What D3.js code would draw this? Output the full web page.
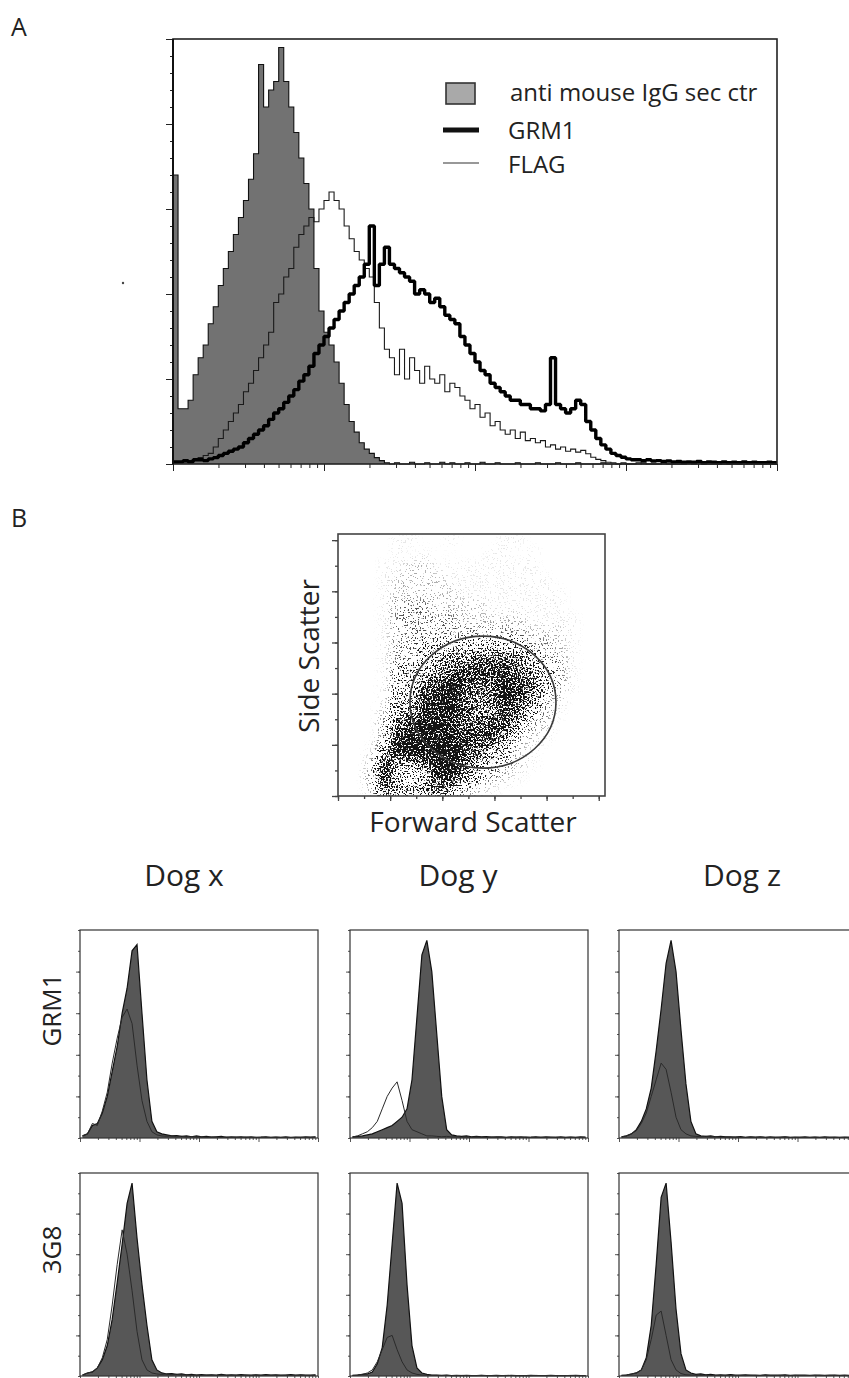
<!DOCTYPE html>
<html>
<head>
<meta charset="utf-8">
<script src="https://cdn.jsdelivr.net/npm/d3@7"></script>
<style>
  body { margin: 0; background: #fff; }
  svg { display: block; font-family: "Open Sans", sans-serif; }
</style>
</head>
<body>
<div id="graf"></div>
<script>
// Datos: panel A, 120 canales en escala log (4 decadas)
const controlA = [68,13,13,15,21,25,28,33,37,42, 46,50,54,58,62,67,73,94,84,88,
  90,98,90,84,78,72,66,60,46,36, 31,28,24,19,14,10,7.5,5,3.5,2.5,
  1.5,0.8,0.3,0,0.3,0,0,0.4,0,0, 0.3,0,0,0.4,0,0.3,0,0,0.3,0,
  0,0.4,0,0,0.3,0,0,0,0.3,0, 0,0,0.3,0,0,0,0.3,0,0,0,
  0.3,0,0,0,0,0.3,0,0,0,0, 0,0,0,0.3,0,0,0,0,0,0,
  0,0,0.3,0,0,0,0,0,0,0, 0,0,0,0,0.3,0,0,0,0,0]
const grm1A = [0.5,0.5,0.8,0.5,1,1,0.8,1.2,1.5,2, 2.5,3,3.5,4,5,6,7,8,9,10.5,
  12,13,14.5,16,17.5,19.5,21,23,26,28, 30,32,34,36,38,40,42,44,47,56,
  42,47,51,47,46,45,44,43,40,41, 40,38,39,37,35,34,33,30,28,26,
  24,22,21,19,18,17,16,15,15,14, 14,13,13,12.5,14,25,14,13,12,13,
  15,14,10,8,6,4.5,3.5,2.5,2,1.6, 1.2,1,1,0.8,1,0.7,0.8,0.6,0.7,0.5,
  0.6,0.4,0.5,0.4,0.6,0.3,0.5,0.4,0.3,0.5, 0.3,0.4,0.3,0.5,0.3,0.4,0.3,0.3,0.4,0.3]
const flagA = [0.3,0.5,0.5,0.8,1,1.5,2,2.5,4,6, 8,10,12,14,17,19,22,25,28,31,
  38,40,44,46,51,54,56,58,57,60, 62,64,62,60,56,53,50,48,46,44,
  38,32,27,25,21,27,20,25,22,19, 23,20,19,21,17,19,18,16,15,13,
  14,11,12,9,10,8,7,8,6,7.5, 5.5,6,5,5.5,4,4.5,3.5,4,3,3.5,
  2.8,3.2,2.4,1.6,1.1,0.8,0.4,0.3,0,0.3, 0,0,0.3,0,0,0,0,0.3,0,0,
  0,0,0,0,0.3,0,0,0,0,0, 0,0,0,0,0,0,0.3,0,0,0]
const leyendaA = ["anti mouse IgG sec ctr", "GRM1", "FLAG"]

// Datos: panel B, densidad FSC / SSC (filas de arriba a abajo, 0-9)
const densidad = [
  "00001100100011000000",
  "00001010000110100000",
  "00011221111111100000",
  "00012222111111110000",
  "00012222211111111000",
  "00013332222111111000",
  "00013333322222111100",
  "00013333333333222100",
  "00013344444444332100",
  "00013345667776533100",
  "00014446788887643100",
  "00014478987798743100",
  "00015589976798632000",
  "00025689986687431000",
  "00037899877885320000",
  "00038999988863210000",
  "00159999987542100000",
  "00286579975432100000",
  "00384348964321000000",
  "00276567532100000000",
]
const gateCentro = [556, 367]
const gateRadio = [280, 258]

// Datos: histogramas por perro (48 canales log)
const perros = ["Dog x", "Dog y", "Dog z"]
const anticuerpos = ["GRM1", "3G8"]
const grmFill = [
  [1,2,6,7,12,20,32,44,60,72, 90,93,60,28,8,3,2,1.5,1,1.2, 0.8,1,0.6,1,0.5,0.8,0.4,0.6,0.8,0.3, 0.5,0.4,0.6,0.3,0.5,0.3,0.4,0.6,0.3,0.4, 0.3,0.5,0.3,0.4,0.3,0.5,0.4,0.6],
  [0.5,0.8,1,1.5,2,3,4,5,6,8, 10,14,28,58,88,95,80,50,20,4, 1.5,1,0.8,1,0.6,0.8,0.5,0.7,0.4,0.6, 0.5,0.3,0.6,0.4,0.5,0.3,0.4,0.6,0.3,0.5, 0.4,0.3,0.5,0.3,0.4,0.3,0.5,0.4],
  [0.5,1,2,4,8,14,24,42,62,84, 95,80,52,26,8,2,1,0.8,1,0.6, 0.8,0.5,0.6,0.4,0.7,0.3,0.5,0.4,0.6,0.3, 0.5,0.3,0.4,0.5,0.3,0.4,0.3,0.5,0.3,0.4, 0.3,0.5,0.3,0.4,0.3,0.4,0.3,0.4],
]
const grmCtrl = [
  [1,2,7,6,13,22,36,48,58,62, 55,35,18,8,3,1.5,1,0.8,1,0.6, 0.8,0.5,0.7,0.4,0.6,0.3,0.5,0.4,0.3,0.5, 0.3,0.4,0.3,0.5,0.3,0.3,0.4,0.3,0.3,0.4, 0.3,0.3,0.2,0.3,0.4,0.3,0.3,0.4],
  [0.5,1,2,3,5,8,14,20,24,27, 18,8,4,3,2,1,1,0.8,0.6,0.8, 0.5,0.6,0.4,0.5,0.3,0.5,0.4,0.3,0.5,0.3, 0.4,0.3,0.3,0.4,0.3,0.5,0.3,0.3,0.4,0.3, 0.3,0.4,0.3,0.3,0.4,0.3,0.3,0.3],
  [0.5,1,2,3.5,7,12,20,28,36,33, 22,10,4,2,1,0.8,0.6,0.8,0.5,0.6, 0.4,0.5,0.3,0.5,0.4,0.3,0.5,0.3,0.4,0.3, 0.3,0.4,0.3,0.5,0.3,0.3,0.4,0.3,0.3,0.4, 0.3,0.3,0.4,0.3,0.3,0.3,0.4,0.3],
]
const g3g8Fill = [
  [0.5,1.5,2,4,8,15,28,46,65,85, 95,68,45,25,8,3,1.5,1,1.2,0.8, 1,0.6,0.8,0.5,0.7,0.4,0.6,0.5,0.8,0.4, 0.6,0.5,0.7,0.4,0.5,0.6,0.4,0.7,0.5,0.6, 0.4,0.5,0.7,0.4,0.6,0.5,0.4,0.6],
  [0.3,0.5,0.8,1,2,6,14,35,65,95, 85,45,15,4,1.5,0.8,0.5,0.4,0.3,0.4, 0.2,0.3,0.2,0.3,0.2,0.2,0.3,0.2,0.2,0.3, 0.2,0.2,0.3,0.2,0.2,0.2,0.3,0.2,0.2,0.2, 0.3,0.2,0.2,0.2,0.2,0.3,0.2,0.2],
  [0.3,0.5,1,1.5,3,9,25,55,88,95, 66,33,11,3,1.5,0.8,1,0.6,0.8,0.5, 0.6,0.4,0.7,0.4,0.5,0.6,0.4,0.5,0.3,0.6, 0.4,0.5,0.4,0.6,0.3,0.5,0.4,0.5,0.3,0.4, 0.5,0.3,0.4,0.5,0.3,0.4,0.3,0.5],
]
const g3g8Ctrl = [
  [0.5,1.5,2,4,9,18,35,55,72,60, 42,22,8,3,1.5,1,0.8,1,0.6,0.8, 0.5,0.6,0.4,0.5,0.3,0.5,0.4,0.3,0.5,0.4, 0.3,0.4,0.3,0.5,0.3,0.4,0.3,0.3,0.4,0.3, 0.3,0.4,0.3,0.3,0.4,0.3,0.3,0.4],
  [0.3,0.5,0.8,1.5,3,7,13,19,20,13, 7,3,1.5,0.8,0.5,0.4,0.3,0.3,0.2,0.3, 0.2,0.2,0.3,0.2,0.2,0.2,0.3,0.2,0.2,0.2, 0.2,0.3,0.2,0.2,0.2,0.2,0.2,0.3,0.2,0.2, 0.2,0.2,0.2,0.2,0.3,0.2,0.2,0.2],
  [0.3,0.5,1,1.5,3,8,18,30,32,20, 8,3,1.2,0.6,0.5,0.4,0.3,0.4,0.3,0.3, 0.2,0.3,0.3,0.2,0.3,0.2,0.3,0.2,0.2,0.3, 0.2,0.2,0.3,0.2,0.2,0.3,0.2,0.2,0.2,0.3, 0.2,0.2,0.2,0.3,0.2,0.2,0.2,0.2],
]

// Dimensiones
const anchoTotal = 849
const altoTotal = 1378

const svg = d3.select("#graf")
  .append("svg")
  .attr("width", anchoTotal)
  .attr("height", altoTotal)

const defs = svg.append("defs")

// Helpers de histograma (canales en escala log)
const pasos = (vals) => {
  const n = vals.length
  const pts = vals.map((v, i) => ({ e: Math.pow(10, (4 * i) / n), v }))
  pts.push({ e: 1e4, v: vals[n - 1] })
  return pts
}
const centros = (vals) => {
  const n = vals.length
  return vals.map((v, i) => ({ e: Math.pow(10, (4 * (i + 0.5)) / n), v }))
}
const area = (x, y, curva) => d3.area().x((d) => x(d.e)).y0(y(0)).y1((d) => y(d.v)).curve(curva)
const linea = (x, y, curva) => d3.line().x((d) => x(d.e)).y((d) => y(d.v)).curve(curva)

const eje = (g, axis, tr, color = "#222", ancho = 1) =>
  g.append("g")
    .attr("transform", tr)
    .call(axis)
    .call((s) => s.select(".domain").remove())
    .call((s) => s.selectAll("line").attr("stroke", color).attr("stroke-width", ancho))

const esDecada = (v) => Math.abs(Math.log10(v) - Math.round(Math.log10(v))) < 1e-6

// ---------- Panel A ----------
svg.append("text").attr("x", 11).attr("y", 36).attr("font-size", 25).attr("fill", "#222").text("A")
svg.append("circle").attr("cx", 123).attr("cy", 283).attr("r", 1.2).attr("fill", "#444")

const aX = d3.scaleLog().domain([1, 1e4]).range([173, 777])
const aY = d3.scaleLinear().domain([0, 100]).range([464, 39])
const gA = svg.append("g")
const escalon = d3.curveStepAfter

gA.append("path")
  .datum(pasos(controlA))
  .attr("d", area(aX, aY, escalon))
  .attr("fill", "#727272")
gA.append("path")
  .datum(pasos(controlA))
  .attr("d", linea(aX, aY, escalon))
  .attr("fill", "none").attr("stroke", "#111").attr("stroke-width", 1.1)
gA.append("path")
  .datum(pasos(flagA))
  .attr("d", linea(aX, aY, escalon))
  .attr("fill", "none").attr("stroke", "#1a1a1a").attr("stroke-width", 1.1)
gA.append("path")
  .datum(pasos(grm1A))
  .attr("d", linea(aX, aY, escalon))
  .attr("fill", "none").attr("stroke", "#000").attr("stroke-width", 3.4)
  .attr("stroke-linejoin", "bevel")

// Ejes panel A
eje(gA, d3.axisLeft(aY).tickValues(d3.range(0, 101, 4)).tickSize(3).tickFormat(""), "translate(173,0)")
eje(gA, d3.axisLeft(aY).tickValues(d3.range(0, 101, 20)).tickSize(7).tickFormat(""), "translate(173,0)")
eje(gA, d3.axisBottom(aX).tickValues(aX.ticks().filter((v) => !esDecada(v))).tickSize(4).tickFormat(""), "translate(0,464)")
eje(gA, d3.axisBottom(aX).tickValues([1, 10, 100, 1000, 10000]).tickSize(7).tickFormat(""), "translate(0,464)")
gA.append("rect")
  .attr("x", 173).attr("y", 39).attr("width", 604).attr("height", 425)
  .attr("fill", "none").attr("stroke", "#222").attr("stroke-width", 1.6)
gA.append("line").attr("x1", 173).attr("x2", 173).attr("y1", 39).attr("y2", 464)
  .attr("stroke", "#111").attr("stroke-width", 2)

// Leyenda
const leg = gA.append("g")
leg.append("rect").attr("x", 446).attr("y", 83).attr("width", 29).attr("height", 21)
  .attr("fill", "#a9a9a9").attr("stroke", "#333").attr("stroke-width", 1.6)
leg.append("line").attr("x1", 443).attr("x2", 479).attr("y1", 130).attr("y2", 130)
  .attr("stroke", "#111").attr("stroke-width", 5)
leg.append("line").attr("x1", 443).attr("x2", 479).attr("y1", 163).attr("y2", 163)
  .attr("stroke", "#333").attr("stroke-width", 1.2)
leg.selectAll("text.ley")
  .data(leyendaA)
  .join("text")
  .attr("class", "ley")
  .attr("x", (d, i) => (i === 0 ? 510 : 508))
  .attr("y", (d, i) => [101, 139, 173][i])
  .attr("font-size", 24)
  .attr("fill", "#222")
  .text((d) => d)

// ---------- Panel B: scatter ----------
svg.append("text").attr("x", 11).attr("y", 527).attr("font-size", 25).attr("fill", "#222").text("B")

const sX = d3.scaleLinear().domain([0, 1024]).range([338, 605])
const sY = d3.scaleLinear().domain([0, 1024]).range([796, 534])
const gS = svg.append("g")

defs.append("clipPath").attr("id", "clipS")
  .append("rect").attr("x", 338).attr("y", 534).attr("width", 267).attr("height", 262)

// textura de puntos: difuminado + tramado
const filt = defs.append("filter").attr("id", "grano")
  .attr("filterUnits", "userSpaceOnUse")
  .attr("x", 338).attr("y", 534).attr("width", 267).attr("height", 262)
  .attr("color-interpolation-filters", "sRGB")
filt.append("feGaussianBlur").attr("in", "SourceGraphic").attr("stdDeviation", 4.5).attr("result", "b")
filt.append("feTurbulence").attr("type", "fractalNoise").attr("baseFrequency", 0.6)
  .attr("numOctaves", 2).attr("seed", 5).attr("result", "n")
filt.append("feColorMatrix").attr("in", "n").attr("type", "matrix")
  .attr("values", "0 0 0 0 0  0 0 0 0 0  0 0 0 0 0  3.2 0 0 0 -1.1").attr("result", "m")
filt.append("feComposite").attr("in", "b").attr("in2", "m").attr("operator", "arithmetic")
  .attr("k1", 0).attr("k2", 5).attr("k3", -5).attr("k4", 0)

const nCol = densidad[0].length
const paso = 1024 / nCol
const celdas = []
densidad.forEach((fila, r) =>
  fila.split("").forEach((c, k) => {
    if (+c > 0) celdas.push({ r, k, v: +c })
  })
)
const tono = d3.scalePow().exponent(1.8).domain([0, 9]).range([0, 1])

gS.append("g")
  .attr("clip-path", "url(#clipS)")
  .append("g")
  .attr("filter", "url(#grano)")
  .attr("opacity", 0.92)
  .selectAll("rect")
  .data(celdas)
  .join("rect")
  .attr("x", (d) => sX(d.k * paso))
  .attr("y", (d) => sY(1024 - d.r * paso))
  .attr("width", sX(paso) - sX(0) + 0.5)
  .attr("height", sY(0) - sY(paso) + 0.5)
  .attr("fill", "#000")
  .attr("fill-opacity", (d) => tono(d.v))

gS.append("ellipse")
  .attr("cx", sX(gateCentro[0]))
  .attr("cy", sY(gateCentro[1]))
  .attr("rx", sX(gateRadio[0]) - sX(0))
  .attr("ry", sY(0) - sY(gateRadio[1]))
  .attr("fill", "none").attr("stroke", "#3a3a3a").attr("stroke-width", 1.6)

eje(gS, d3.axisLeft(sY).tickValues(d3.range(0, 1001, 100)).tickSize(3).tickFormat(""), "translate(338,0)", "#444", 1.3)
eje(gS, d3.axisLeft(sY).tickValues(d3.range(0, 1001, 200)).tickSize(6).tickFormat(""), "translate(338,0)", "#444", 1.3)
eje(gS, d3.axisBottom(sX).tickValues(d3.range(0, 1001, 100)).tickSize(3).tickFormat(""), "translate(0,796)", "#444", 1.3)
eje(gS, d3.axisBottom(sX).tickValues(d3.range(0, 1001, 200)).tickSize(5).tickFormat(""), "translate(0,796)", "#444", 1.3)
gS.append("rect")
  .attr("x", 338).attr("y", 534).attr("width", 267).attr("height", 262)
  .attr("fill", "none").attr("stroke", "#444").attr("stroke-width", 1.6)

gS.append("text")
  .attr("transform", "translate(319,656) rotate(-90)")
  .attr("text-anchor", "middle").attr("font-size", 28).attr("fill", "#222")
  .text("Side Scatter")
gS.append("text")
  .attr("x", 473).attr("y", 832)
  .attr("text-anchor", "middle").attr("font-size", 28).attr("fill", "#222")
  .text("Forward Scatter")

// ---------- Paneles por perro ----------
const colIzq = [80, 350, 619]
const colAncho = 238
const filaTop = [930, 1173]
const filaAlto = [208, 203]
const tituloX = [184, 458, 742]
const etiquetaY = [1010, 1250]
const datosFill = [grmFill, g3g8Fill]
const datosCtrl = [grmCtrl, g3g8Ctrl]
const suave = d3.curveLinear

svg.selectAll("text.perro")
  .data(perros)
  .join("text")
  .attr("class", "perro")
  .attr("x", (d, i) => tituloX[i])
  .attr("y", 886)
  .attr("text-anchor", "middle")
  .attr("font-size", 30)
  .attr("fill", "#222")
  .text((d) => d)

svg.selectAll("text.ab")
  .data(anticuerpos)
  .join("text")
  .attr("class", "ab")
  .attr("transform", (d, i) => `translate(61,${etiquetaY[i]}) rotate(-90)`)
  .attr("text-anchor", "middle")
  .attr("font-size", 26)
  .attr("fill", "#222")
  .text((d) => d)

anticuerpos.forEach((ab, f) => {
  perros.forEach((p, c) => {
    const g = svg.append("g")
    const x = d3.scaleLog().domain([1, 1e4]).range([colIzq[c], colIzq[c] + colAncho])
    const y = d3.scaleLinear().domain([0, 100]).range([filaTop[f] + filaAlto[f], filaTop[f]])
    const relleno = centros(datosFill[f][c])
    const ctrl = centros(datosCtrl[f][c])

    g.append("path").datum(relleno).attr("d", area(x, y, suave)).attr("fill", "#575757")
    g.append("path").datum(relleno).attr("d", linea(x, y, suave))
      .attr("fill", "none").attr("stroke", "#111").attr("stroke-width", 1.2)
    g.append("path").datum(ctrl).attr("d", linea(x, y, suave))
      .attr("fill", "none").attr("stroke", "#2a2a2a").attr("stroke-width", 1)

    const base = `translate(0,${filaTop[f] + filaAlto[f]})`
    eje(g, d3.axisLeft(y).tickValues(d3.range(0, 101, 10)).tickSize(2).tickFormat(""), `translate(${colIzq[c]},0)`, "#555")
    eje(g, d3.axisLeft(y).tickValues(d3.range(20, 81, 20)).tickSize(4).tickFormat(""), `translate(${colIzq[c]},0)`, "#555")
    eje(g, d3.axisBottom(x).tickValues(x.ticks().filter((v) => !esDecada(v))).tickSize(2).tickFormat(""), base, "#555")
    eje(g, d3.axisBottom(x).tickValues([1, 10, 100, 1000, 10000]).tickSize(4).tickFormat(""), base, "#555")
    g.append("rect")
      .attr("x", colIzq[c]).attr("y", filaTop[f]).attr("width", colAncho).attr("height", filaAlto[f])
      .attr("fill", "none").attr("stroke", "#333").attr("stroke-width", 1.2)
  })
})
</script>
</body>
</html>
